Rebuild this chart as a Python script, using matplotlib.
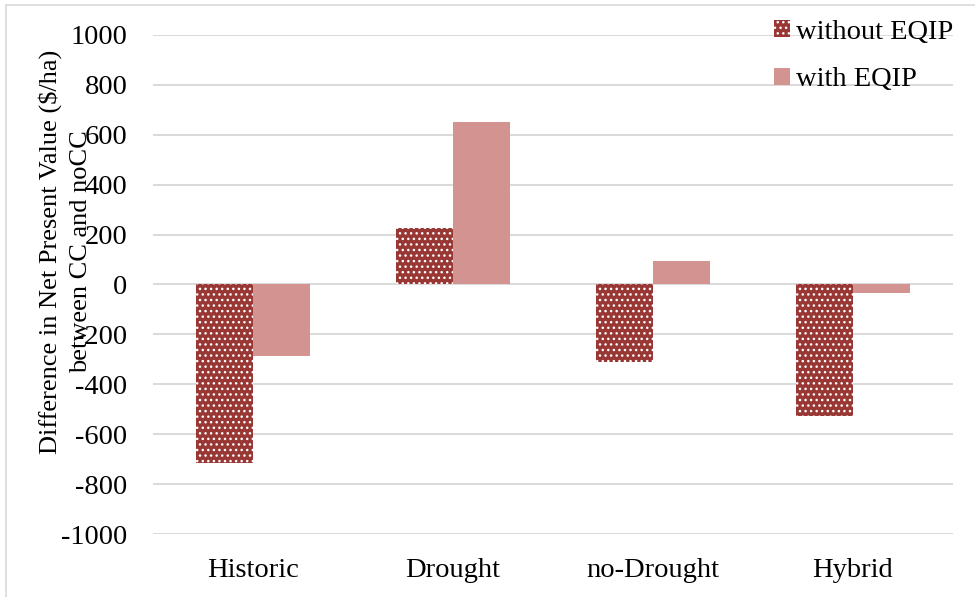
import matplotlib
matplotlib.use('Agg')
import matplotlib.pyplot as plt
import numpy as np
from matplotlib.patches import Rectangle

plt.rcParams['font.family'] = ['Liberation Serif', 'DejaVu Serif']

# data
scenarios = ['Historic', 'Drought', 'no-Drought', 'Hybrid']
without_eqip = [-717, 225, -312, -528]
with_eqip = [-285, 651, 94, -36]
yticks = list(range(-1000, 1001, 200))

fig = plt.figure(figsize=(9.75, 5.97), dpi=100)
ax = fig.add_axes([0.157, 0.1055, 0.82, 0.836])

x = np.arange(len(scenarios))
w = 0.285
ax.bar(x - w / 2, without_eqip, w, color='#983734', edgecolor='white',
       linewidth=0, hatch='...', label='without EQIP', zorder=3)
ax.bar(x + w / 2, with_eqip, w, color='#d39391', linewidth=0,
       label='with EQIP', zorder=3)

ax.set_xlim(-0.5, len(scenarios) - 0.5)
ax.set_ylim(-1000, 1000)
ax.set_yticks(yticks)
ax.set_yticklabels([str(v) for v in yticks])
ax.set_xticks(x)
ax.set_xticklabels(scenarios)
ax.tick_params(axis='y', length=0, pad=18.5, labelsize=20.5)
ax.tick_params(axis='x', length=0, pad=17, labelsize=20.5)
ax.grid(axis='y', color='#d9d9d9', linewidth=1.4, zorder=0)
ax.set_axisbelow(True)
for s in ax.spines.values():
    s.set_visible(False)

ax.set_ylabel('Difference in Net Present Value ($/ha)\nbetween CC and noCC',
              fontsize=19, linespacing=1.5)
ax.yaxis.set_label_coords(-0.076, 0.565)

ax.legend(loc='upper right', bbox_to_anchor=(0.978, 0.967),
          bbox_transform=fig.transFigure, frameon=False,
          fontsize=20.5, labelspacing=0.8, handlelength=0.55, handleheight=0.55,
          handletextpad=0.22, borderaxespad=0, borderpad=0)

fig.patches.append(Rectangle((0.006, -0.01), 1.2, 1.002, transform=fig.transFigure,
                             fill=False, edgecolor='#d9d9d9', linewidth=1.2))

fig.savefig('out.png', dpi=100)
